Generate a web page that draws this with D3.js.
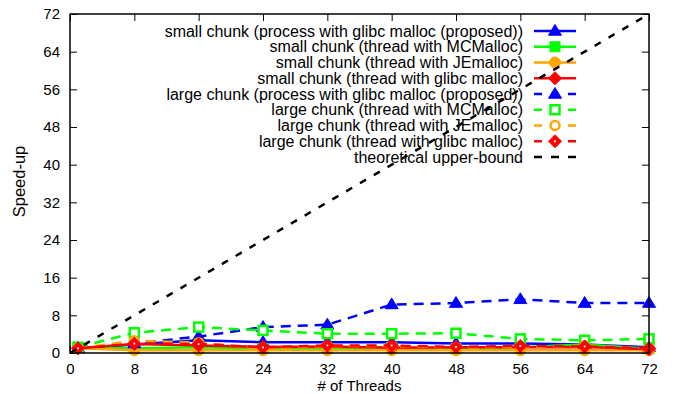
<!DOCTYPE html>
<html>
<head>
<meta charset="utf-8">
<script src="https://cdn.jsdelivr.net/npm/d3@7"></script>
<style>
  body { margin: 0; background: #fff; }
  svg { display: block; }
  text { font-family: "Liberation Sans", Arial, sans-serif; fill: #000; }
</style>
</head>
<body>
<div id="chart"></div>
<script>
// thread counts on the x axis
const threads = [1, 8, 16, 24, 32, 40, 48, 56, 64, 72];

// speed-up values
const smallProcess = [1.0, 1.8, 2.7, 2.3, 2.3, 2.3, 2.0, 2.0, 1.8, 1.2];
const smallMC      = [1.2, 1.0, 1.2, 1.0, 1.0, 1.2, 0.9, 1.2, 1.8, 0.9];
const smallJE      = [1.0, 0.6, 0.6, 0.6, 0.6, 0.6, 0.6, 0.6, 0.6, 0.6];
const smallGlibc   = [1.0, 1.9, 1.6, 1.3, 1.4, 1.1, 1.2, 1.2, 1.3, 0.8];
const largeProcess = [1.0, 2.0, 3.5, 5.5, 6.0, 10.3, 10.6, 11.4, 10.6, 10.6];
const largeMC      = [1.2, 4.3, 5.5, 4.8, 4.1, 4.1, 4.2, 3.0, 2.7, 3.0];
const largeJE      = [1.0, 2.6, 2.2, 1.0, 1.5, 1.5, 1.2, 1.3, 1.5, 1.0];
const largeGlibc   = [1.0, 2.0, 1.9, 1.2, 1.6, 1.6, 1.3, 1.5, 1.4, 1.0];
const upperBound   = [0, 72];

const xTicks = [0, 8, 16, 24, 32, 40, 48, 56, 64, 72];
const yTicks = [0, 8, 16, 24, 32, 40, 48, 56, 64, 72];

const series = [
  {name: "small chunk (process with glibc malloc (proposed))", values: smallProcess, color: "#0000ff", dash: null, marker: "tri", filled: true},
  {name: "small chunk (thread with MCMalloc)", values: smallMC, color: "#00ff00", dash: null, marker: "square", filled: true},
  {name: "small chunk (thread with JEmalloc)", values: smallJE, color: "#ffa500", dash: null, marker: "circle", filled: true},
  {name: "small chunk (thread with glibc malloc)", values: smallGlibc, color: "#ff0000", dash: null, marker: "diamond", filled: true},
  {name: "large chunk (process with glibc malloc (proposed))", values: largeProcess, color: "#0000ff", dash: "10,7", marker: "tri", filled: true},
  {name: "large chunk (thread with MCMalloc)", values: largeMC, color: "#00ff00", dash: "10,7", marker: "square", filled: false},
  {name: "large chunk (thread with JEmalloc)", values: largeJE, color: "#ffa500", dash: "10,7", marker: "circle", filled: false},
  {name: "large chunk (thread with glibc malloc)", values: largeGlibc, color: "#ff0000", dash: "10,7", marker: "diamond", filled: false}
];

let width = 675, height = 394;
let margin = {left: 70, right: 26, top: 14, bottom: 41};

let svg = d3.select("#chart").append("svg")
  .attr("width", width).attr("height", height);

let x = d3.scaleLinear().domain([0, 72]).range([margin.left, width - margin.right]);
let y = d3.scaleLinear().domain([0, 72]).range([height - margin.bottom, margin.top]);

// axes (ticks inward, mirrored)
let axisG = svg.append("g");
axisG.append("g").attr("transform", "translate(0," + y(0) + ")")
  .call(d3.axisBottom(x).tickValues(xTicks).tickSizeInner(-7).tickSizeOuter(0).tickPadding(10));
axisG.append("g").attr("transform", "translate(0," + y(72) + ")")
  .call(d3.axisTop(x).tickValues(xTicks).tickSizeInner(-7).tickSizeOuter(0).tickFormat(""));
axisG.append("g").attr("transform", "translate(" + x(0) + ",0)")
  .call(d3.axisLeft(y).tickValues(yTicks).tickSizeInner(-7).tickSizeOuter(0).tickPadding(10));
axisG.append("g").attr("transform", "translate(" + x(72) + ",0)")
  .call(d3.axisRight(y).tickValues(yTicks).tickSizeInner(-7).tickSizeOuter(0).tickFormat(""));
axisG.selectAll(".domain").remove();
axisG.selectAll("line").attr("stroke", "#000").attr("stroke-width", 1);
axisG.selectAll("text").attr("font-size", 15).attr("font-family", "Liberation Sans, Arial, sans-serif").attr("fill", "#000");

svg.append("text")
  .text("# of Threads")
  .attr("x", (x(0) + x(72)) / 2)
  .attr("y", 390.5)
  .attr("text-anchor", "middle")
  .attr("font-size", 15);

svg.append("text")
  .text("Speed-up")
  .attr("transform", "translate(25,181.5) rotate(-90)")
  .attr("text-anchor", "middle")
  .attr("font-size", 16.5);

function marker(g, type, cx, cy, color, filled) {
  let fill = filled ? color : "#fff";
  let sw = filled ? 1 : 2.5;
  if (type == "tri") {
    let r = 6.5;
    g.append("path")
      .attr("d", "M" + cx + "," + (cy - r) + "L" + (cx + r) + "," + (cy + r * 0.65) + "L" + (cx - r) + "," + (cy + r * 0.65) + "Z")
      .attr("fill", color).attr("stroke", color).attr("stroke-width", 1);
  } else if (type == "square") {
    let r = filled ? 5 : 4.5;
    g.append("rect").attr("x", cx - r).attr("y", cy - r).attr("width", 2 * r).attr("height", 2 * r)
      .attr("fill", fill).attr("stroke", color).attr("stroke-width", sw);
  } else if (type == "circle") {
    g.append("circle").attr("cx", cx).attr("cy", cy).attr("r", filled ? 5.5 : 4.5)
      .attr("fill", fill).attr("stroke", color).attr("stroke-width", sw);
  } else {
    let r = 6.5;
    g.append("path")
      .attr("d", "M" + cx + "," + (cy - r) + "L" + (cx + r) + "," + cy + "L" + cx + "," + (cy + r) + "L" + (cx - r) + "," + cy + "Z")
      .attr("fill", color).attr("stroke", color).attr("stroke-width", 1);
    if (!filled) {
      g.append("rect").attr("x", cx - 0.9).attr("y", cy - 0.9).attr("width", 1.8).attr("height", 1.8).attr("fill", "#fff");
    }
  }
}

// legend
let legend = svg.append("g");
let legendX = 523, sampleX1 = 534, sampleX2 = 576, row0 = 31, rowH = 15.75;
series.forEach(function(s, i) {
  let ly = row0 + i * rowH;
  legend.append("text").text(s.name)
    .attr("x", legendX).attr("y", ly)
    .attr("dy", "0.35em")
    .attr("text-anchor", "end")
    .attr("font-size", 16);
  legend.append("line")
    .attr("x1", sampleX1).attr("x2", sampleX2).attr("y1", ly).attr("y2", ly)
    .attr("stroke", s.color).attr("stroke-width", 2.5)
    .attr("stroke-dasharray", s.dash ? "8,9,8,9,8" : null);
  marker(legend, s.marker, (sampleX1 + sampleX2) / 2, ly, s.color, s.filled);
});
let lyLast = row0 + 8 * rowH;
legend.append("text").text("theoretical upper-bound")
  .attr("x", legendX).attr("y", lyLast)
  .attr("dy", "0.35em")
  .attr("text-anchor", "end")
  .attr("font-size", 16);
legend.append("line")
  .attr("x1", sampleX1).attr("x2", sampleX2).attr("y1", lyLast).attr("y2", lyLast)
  .attr("stroke", "#000").attr("stroke-width", 2.5)
  .attr("stroke-dasharray", "8,9");

// data lines
let line = d3.line()
  .x(function(d) { return x(d[0]); })
  .y(function(d) { return y(d[1]); })
  .curve(d3.curveLinear);

let plot = svg.append("g");
series.forEach(function(s) {
  let pts = threads.map(function(t, i) { return [t, s.values[i]]; });
  plot.append("path")
    .attr("d", line(pts))
    .attr("fill", "none")
    .attr("stroke", s.color).attr("stroke-width", 2.5)
    .attr("stroke-dasharray", s.dash);
  pts.forEach(function(p) {
    marker(plot, s.marker, x(p[0]), y(p[1]), s.color, s.filled);
  });
});

plot.append("path")
  .attr("d", line([[0, upperBound[0]], [72, upperBound[1]]]))
  .attr("fill", "none")
  .attr("stroke", "#000").attr("stroke-width", 2.5)
  .attr("stroke-dasharray", "7,9");

// frame
svg.append("rect")
  .attr("x", x(0)).attr("y", y(72))
  .attr("width", x(72) - x(0)).attr("height", y(0) - y(72))
  .attr("fill", "none").attr("stroke", "#000").attr("stroke-width", 1.5);
</script>
</body>
</html>
